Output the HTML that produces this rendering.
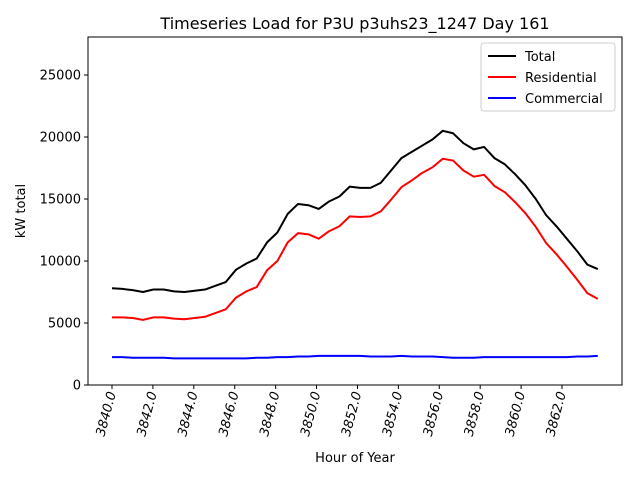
<!DOCTYPE html>
<html><head><meta charset="utf-8"><style>
body{margin:0;background:#fff;font-family:"DejaVu Sans","Liberation Sans",sans-serif;}
svg text{font-family:"DejaVu Sans","Liberation Sans",sans-serif;}
</style></head><body>
<svg id="chart" width="640" height="480">
<rect x="0" y="0" width="640" height="480" fill="#fff"/>
<text x="355" y="29" font-size="16" text-anchor="middle">Timeseries Load for P3U p3uhs23_1247  Day 161</text>
<text x="355" y="462" font-size="13" text-anchor="middle">Hour of Year</text>
<text transform="translate(25,211) rotate(-90)" font-size="13" text-anchor="middle">kW total</text>
<g id="plot"></g>
<rect x="88" y="37" width="534" height="348" fill="none" stroke="#000" stroke-width="1"/>
<g>
<rect x="481" y="43" width="134" height="68" rx="3" fill="#fff" stroke="#ccc"/>
<line x1="488" y1="56" x2="516" y2="56" stroke="#000" stroke-width="2"/>
<text x="525" y="61" font-size="13">Total</text>
<line x1="488" y1="77" x2="516" y2="77" stroke="#f00" stroke-width="2"/>
<text x="525" y="82" font-size="13">Residential</text>
<line x1="488" y1="98" x2="516" y2="98" stroke="#00f" stroke-width="2"/>
<text x="525" y="103" font-size="13">Commercial</text>
</g>
</svg>
<script>
const total=[7800,7750,7650,7500,7700,7700,7550,7500,7600,7700,8000,8300,9300,9800,10200,11500,12300,13800,14600,14500,14200,14800,15200,16000,15900,15900,16300,17300,18300,18800,19300,19800,20500,20300,19500,19000,19200,18300,17800,17000,16100,15000,13700,12800,11800,10800,9700,9350];
const residential=[5450,5450,5400,5250,5450,5450,5350,5300,5400,5500,5800,6100,7050,7550,7900,9250,10000,11500,12250,12150,11800,12400,12800,13600,13550,13600,14000,14950,15950,16500,17100,17550,18250,18100,17300,16800,16950,16050,15550,14750,13850,12750,11450,10550,9550,8500,7400,6950];
const commercial=[2250,2250,2200,2200,2200,2200,2150,2150,2150,2150,2150,2150,2150,2150,2200,2200,2250,2250,2300,2300,2350,2350,2350,2350,2350,2300,2300,2300,2350,2300,2300,2300,2250,2200,2200,2200,2250,2250,2250,2250,2250,2250,2250,2250,2250,2300,2300,2350];
const yTicks=[0,5000,10000,15000,20000,25000];
const xTicks=[3840,3842,3844,3846,3848,3850,3852,3854,3856,3858,3860,3862];
const hours=total.map((_,i)=>3840+i*23.75/47);
const NS="http://www.w3.org/2000/svg";
const X=h=>112+(h-3840)*450/22;
const Y=v=>385-v*(348/28065);
const g=document.getElementById('plot');
function mk(t,a){const e=document.createElementNS(NS,t);for(const k in a)e.setAttribute(k,a[k]);g.appendChild(e);return e;}
yTicks.forEach(v=>{
 const l=mk('line',{x1:84,x2:88,y1:Y(v),y2:Y(v),stroke:'#000'});
 
 
 const t=mk('text',{x:81,y:Y(v)+4.5,'font-size':13,'text-anchor':'end'});t.textContent=v;
 
 
});
xTicks.forEach(v=>{
 const l=mk('line',{x1:X(v),x2:X(v),y1:385,y2:389,stroke:'#000'});
 
 
 const t=mk('text',{transform:`translate(${X(v)+4},${393}) rotate(-75)`,'font-size':13,'text-anchor':'end','font-style':'italic'});t.textContent=v.toFixed(1);
 
 
});
[[total,'#000','total-line'],[residential,'#f00','residential-line'],[commercial,'#00f','commercial-line']].forEach(([d,c,n])=>{
 const p=mk('polyline',{points:d.map((v,i)=>X(hours[i])+','+Y(v)).join(' '),fill:'none',stroke:c,'stroke-width':2,'stroke-linejoin':'round'});
 
 
});
</script>
</body></html>
